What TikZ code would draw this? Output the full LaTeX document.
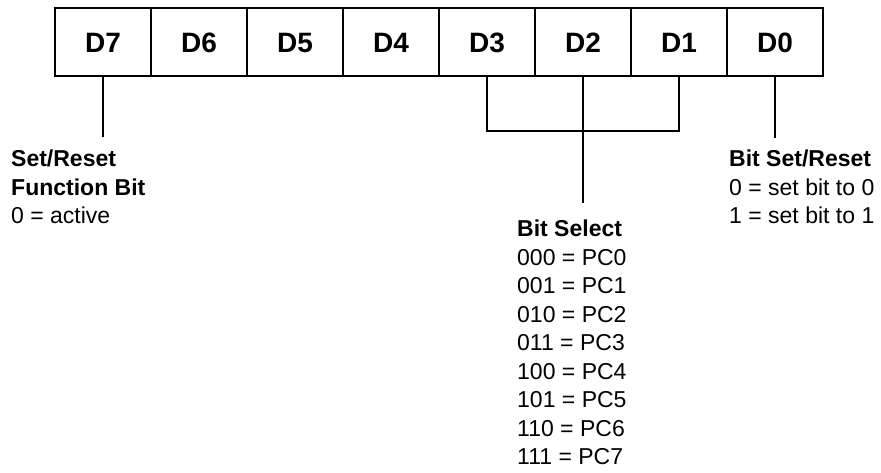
\documentclass[tikz,border=0pt]{standalone}
\usepackage{fontspec}
\setmainfont{Liberation Sans}
\usetikzlibrary{positioning}

\begin{document}
\begin{tikzpicture}[
  x=1pt, y=1pt,
  bitbox/.style={draw, line width=1.8pt, minimum width=96pt, minimum height=68pt,
                 inner sep=0pt, outer sep=0pt, text height=20pt, text depth=0pt,
                 font=\fontsize{28}{28}\selectfont\bfseries},
  wire/.style={line width=1.2pt},
  lbl/.style={align=left, inner sep=0pt, anchor=north west,
              font=\fontsize{23}{28.5}\selectfont}
]
\useasboundingbox (0,0) rectangle (881,-472);
\node[bitbox, anchor=north west] (d7) at (55,-8) {D7};
\node[bitbox, right=0pt of d7] (d6) {D6};
\node[bitbox, right=0pt of d6] (d5) {D5};
\node[bitbox, right=0pt of d5] (d4) {D4};
\node[bitbox, right=0pt of d4] (d3) {D3};
\node[bitbox, right=0pt of d3] (d2) {D2};
\node[bitbox, right=0pt of d2] (d1) {D1};
\node[bitbox, right=0pt of d1] (d0) {D0};

\node[lbl] (setreset) at (11,-150) {\textbf{Set/Reset}\\\textbf{Function Bit}\\0 = active};
\node[lbl] (bitsel) at (517,-220) {\textbf{Bit Select}\\000 = PC0\\001 = PC1\\010 = PC2\\011 = PC3\\100 = PC4\\101 = PC5\\110 = PC6\\111 = PC7};
\node[lbl] (bitsr) at (729,-150) {\textbf{Bit Set/Reset}\\0 = set bit to 0\\1 = set bit to 1};

\coordinate (d7end) at (d7.south |- 0,-137);
\coordinate (d0end) at (d0.south |- 0,-138);
\coordinate (d2end) at (d2.south |- 0,-203);

\draw[wire] (d7.south) -- (d7end);
\draw[wire] (d0.south) -- (d0end);
\draw[wire] (d3.south) -- ++(0,-55) -| (d1.south);
\draw[wire] (d2.south) -- (d2end);
\end{tikzpicture}
\end{document}
